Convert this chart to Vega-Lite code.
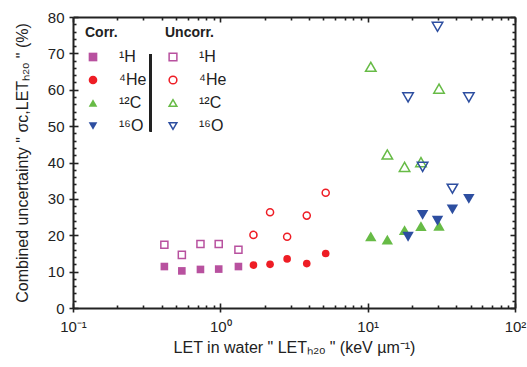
{
  "$schema": "https://vega.github.io/schema/vega-lite/v6.json",
  "width": 442,
  "height": 291,
  "autosize": {"type": "none"},
  "padding": {"left": 73, "top": 17, "right": 12, "bottom": 59},
  "config": {
    "font": "Liberation Sans",
    "view": {"stroke": null},
    "axis": {"grid": false, "domainColor": "#222", "domainWidth": 2, "tickColor": "#222", "tickWidth": 1.6, "labelColor": "#222", "titleColor": "#222", "labelFontSize": 15, "titleFontSize": 16, "titleFontWeight": "normal"},
    "legend": {"labelFontSize": 16, "labelColor": "#222", "titleFontSize": 14, "titleColor": "#222", "titleFontWeight": "bold", "padding": 0, "rowPadding": 7, "titlePadding": 9, "labelOffset": 18}
  },
  "data": {"values": [
    {"ion": "¹H", "let": 0.417, "corr": 11.4, "uncorr": 17.4},
    {"ion": "¹H", "let": 0.548, "corr": 10.2, "uncorr": 14.6},
    {"ion": "¹H", "let": 0.733, "corr": 10.6, "uncorr": 17.6},
    {"ion": "¹H", "let": 0.975, "corr": 10.7, "uncorr": 17.6},
    {"ion": "¹H", "let": 1.327, "corr": 11.4, "uncorr": 16.0},
    {"ion": "⁴He", "let": 1.678, "corr": 11.8, "uncorr": 20.1},
    {"ion": "⁴He", "let": 2.175, "corr": 12.0, "uncorr": 26.3},
    {"ion": "⁴He", "let": 2.84, "corr": 13.5, "uncorr": 19.6},
    {"ion": "⁴He", "let": 3.86, "corr": 12.2, "uncorr": 25.4},
    {"ion": "⁴He", "let": 5.19, "corr": 15.0, "uncorr": 31.7},
    {"ion": "¹²C", "let": 10.5, "corr": 19.7, "uncorr": 66.3},
    {"ion": "¹²C", "let": 13.6, "corr": 18.8, "uncorr": 42.2},
    {"ion": "¹²C", "let": 17.8, "corr": 21.4, "uncorr": 38.8},
    {"ion": "¹²C", "let": 23.0, "corr": 22.5, "uncorr": 40.1},
    {"ion": "¹²C", "let": 30.5, "corr": 22.6, "uncorr": 60.3},
    {"ion": "¹⁶O", "let": 18.8, "corr": 19.6, "uncorr": 57.9},
    {"ion": "¹⁶O", "let": 23.6, "corr": 25.6, "uncorr": 38.8},
    {"ion": "¹⁶O", "let": 29.8, "corr": 24.0, "uncorr": 77.3},
    {"ion": "¹⁶O", "let": 37.6, "corr": 27.1, "uncorr": 32.8},
    {"ion": "¹⁶O", "let": 48.6, "corr": 30.0, "uncorr": 57.9}
  ]},
  "resolve": {
    "axis": {"x": "independent", "y": "independent"},
    "scale": {"shape": "independent", "color": "independent", "stroke": "independent"},
    "legend": {"shape": "independent", "color": "independent", "stroke": "independent"}
  },
  "layer": [
    {
      "mark": {"type": "point", "filled": true, "opacity": 1},
      "encoding": {
        "x": {"field": "let", "type": "quantitative", "scale": {"type": "log", "domain": [0.1, 100], "nice": false},
          "axis": {"orient": "bottom", "title": "LET in water \" LETₕ₂ₒ \" (keV µm⁻¹)", "values": [0.1,0.2,0.3,0.4,0.5,0.6,0.7,0.8,0.9,1,2,3,4,5,6,7,8,9,10,20,30,40,50,60,70,80,90,100],
            "labelExpr": "datum.value == 0.1 ? '10⁻¹' : datum.value == 1 ? '10⁰' : datum.value == 10 ? '10¹' : datum.value == 100 ? '10²' : ''",
            "tickSize": {"condition": {"test": "indexof([0.1,1,10,100], datum.value) >= 0", "value": 4}, "value": 0},
            "labelPadding": 7, "titlePadding": 5, "labelFlush": false, "labelOverlap": false}},
        "y": {"field": "corr", "type": "quantitative", "scale": {"domain": [0, 80], "nice": false},
          "axis": {"orient": "left", "title": "Combined uncertainty \" σc,LETₕ₂ₒ \" (%)", "values": [0,2,4,6,8,10,12,14,16,18,20,22,24,26,28,30,32,34,36,38,40,42,44,46,48,50,52,54,56,58,60,62,64,66,68,70,72,74,76,78,80],
            "labelExpr": "datum.value % 10 == 0 ? datum.value : ''",
            "tickSize": {"condition": {"test": "datum.value % 10 == 0", "value": 4}, "value": 0},
            "labelPadding": 5, "titlePadding": 17, "labelOverlap": false}},
        "size": {"condition": {"test": "datum.ion == '¹²C' || datum.ion == '¹⁶O'", "value": 130}, "value": 58},
        "color": {"field": "ion", "type": "nominal", "scale": {"domain": ["¹H", "⁴He", "¹²C", "¹⁶O"], "range": ["#b8519f", "#ee1d25", "#67bb46", "#2d4ea0"]},
          "legend": {"title": "Corr.", "orient": "none", "legendX": 12, "legendY": 9, "symbolSize": 75}},
        "shape": {"field": "ion", "type": "nominal", "scale": {"domain": ["¹H", "⁴He", "¹²C", "¹⁶O"], "range": ["square", "circle", "triangle-up", "triangle-down"]},
          "legend": {"title": "Corr.", "orient": "none", "legendX": 12, "legendY": 9, "symbolSize": 75}}
      }
    },
    {
      "mark": {"type": "point", "filled": false, "strokeWidth": 1.5, "opacity": 1},
      "encoding": {
        "x": {"field": "let", "type": "quantitative",
          "axis": {"orient": "top", "title": null, "labels": false, "values": [0.1,0.2,0.3,0.4,0.5,0.6,0.7,0.8,0.9,1,2,3,4,5,6,7,8,9,10,20,30,40,50,60,70,80,90,100],
            "tickSize": {"condition": {"test": "indexof([0.1,1,10,100], datum.value) >= 0", "value": -5}, "value": -3}}},
        "y": {"field": "uncorr", "type": "quantitative",
          "axis": {"orient": "right", "title": null, "labels": false, "values": [0,2,4,6,8,10,12,14,16,18,20,22,24,26,28,30,32,34,36,38,40,42,44,46,48,50,52,54,56,58,60,62,64,66,68,70,72,74,76,78,80],
            "tickSize": {"condition": {"test": "datum.value % 10 == 0", "value": -5}, "value": -3}}},
        "size": {"condition": {"test": "datum.ion == '¹²C' || datum.ion == '¹⁶O'", "value": 110}, "value": 50},
        "stroke": {"field": "ion", "type": "nominal", "scale": {"domain": ["¹H", "⁴He", "¹²C", "¹⁶O"], "range": ["#b8519f", "#ee1d25", "#67bb46", "#2d4ea0"]},
          "legend": {"title": "Uncorr.", "orient": "none", "legendX": 92, "legendY": 9, "symbolSize": 60, "symbolStrokeWidth": 1.5}},
        "shape": {"field": "ion", "type": "nominal", "scale": {"domain": ["¹H", "⁴He", "¹²C", "¹⁶O"], "range": ["square", "circle", "triangle-up", "triangle-down"]},
          "legend": {"title": "Uncorr.", "orient": "none", "legendX": 92, "legendY": 9, "symbolSize": 60, "symbolStrokeWidth": 1.5}}
      }
    },
    {
      "mark": {"type": "rule", "color": "#222", "strokeWidth": 2},
      "encoding": {
        "x": {"datum": 0.337, "type": "quantitative",
          "axis": {"orient": "bottom", "title": null, "labels": false, "domain": false, "values": [0.1,0.2,0.3,0.4,0.5,0.6,0.7,0.8,0.9,1,2,3,4,5,6,7,8,9,10,20,30,40,50,60,70,80,90,100],
            "tickSize": {"condition": {"test": "indexof([0.1,1,10,100], datum.value) >= 0", "value": -5}, "value": -3}}},
        "y": {"datum": 69.8, "type": "quantitative",
          "axis": {"orient": "left", "title": null, "labels": false, "domain": false, "values": [0,2,4,6,8,10,12,14,16,18,20,22,24,26,28,30,32,34,36,38,40,42,44,46,48,50,52,54,56,58,60,62,64,66,68,70,72,74,76,78,80],
            "tickSize": {"condition": {"test": "datum.value % 10 == 0", "value": -5}, "value": -3}}},
        "y2": {"datum": 48.6}
      }
    }
  ]
}
